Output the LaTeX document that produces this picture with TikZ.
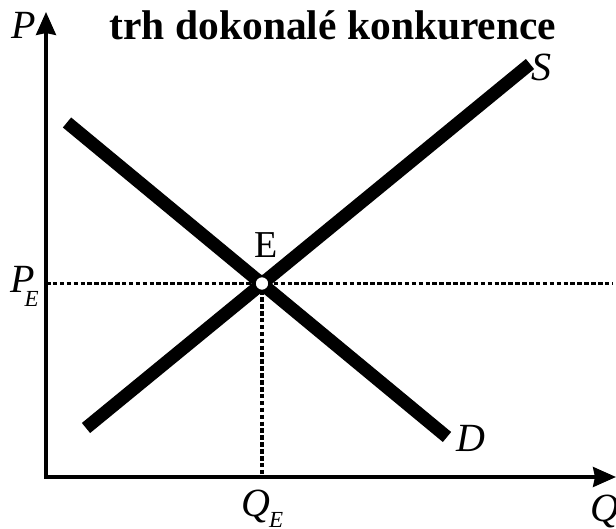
\documentclass[tikz,border=0pt]{standalone}
\usepackage{fontspec}
\setmainfont{Liberation Serif}
\usetikzlibrary{arrows.meta}
\begin{document}
\begin{tikzpicture}[x=1pt,y=-1pt,
  axis/.style={line width=3.2pt,line join=miter},
  curve/.style={line width=13pt,line cap=butt},
  guide/.style={line width=3.5pt,dash pattern=on 4.5pt off 2.4pt},
  lbl/.style={inner sep=0pt,anchor=base west,font=\fontsize{40}{40}\selectfont\itshape}
]
\useasboundingbox (0,0) rectangle (616,529);
% coordinates
\coordinate (O) at (46,477);
\coordinate (ytop) at (46,12);
\coordinate (xend) at (616,477);
\coordinate (s1) at (86,428);
\coordinate (s2) at (530,64);
\coordinate (d1) at (67,122.5);
\coordinate (d2) at (447,437);
\coordinate (pe) at (46,283.5);
\coordinate (peend) at (613,283.5);
\coordinate (qe) at (262,477);
\coordinate (Ec) at (262,283.5);
% guides
\draw[guide] (pe) -- (peend);
\draw[guide] (Ec) -- (qe);
% axes
\draw[axis,{Stealth[length=23pt,width=20pt,inset=2pt]}-{Stealth[length=23pt,width=20pt,inset=2pt]}] (ytop) -- (O) -- (xend);
% curves
\draw[curve] (s1) -- (s2);
\draw[curve] (d1) -- (d2);
% equilibrium point
\node[circle,draw,fill=white,line width=2.5pt,minimum size=15pt,inner sep=0pt] (E) at (Ec) {};
% labels
\node[inner sep=0pt,anchor=base,font=\fontsize{41.5}{41.5}\selectfont\bfseries] (title) at (333,40) {trh dokonalé konkurence};
\node[lbl] (P) at (11,39) {P};
\node[lbl] (Q) at (590,521) {Q};
\node[lbl] (S) at (531,81) {S};
\node[lbl] (D) at (456,451) {D};
\node[inner sep=0pt,anchor=base,font=\fontsize{38}{38}\selectfont] (Elbl) at (266,258) {E};
\node[lbl] (PE) at (10,293) {P\kern-10pt\raisebox{-14pt}{\fontsize{23}{23}\selectfont E}};
\node[lbl] (QE) at (241,516) {Q\kern-1pt\raisebox{-11pt}{\fontsize{23}{23}\selectfont E}};
\end{tikzpicture}
\end{document}
